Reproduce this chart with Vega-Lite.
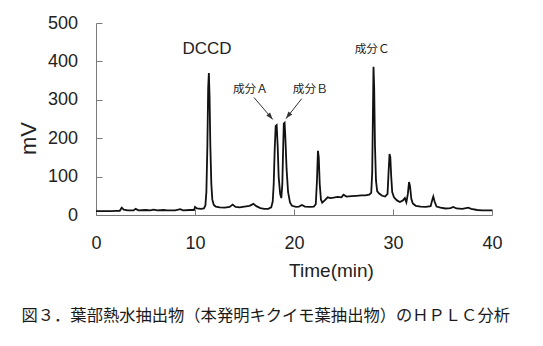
{
  "$schema": "https://vega.github.io/schema/vega-lite/v6.json",
  "autosize": "none",
  "width": 396,
  "height": 192,
  "padding": {"left": 96, "top": 23, "right": 51, "bottom": 131},
  "background": "white",
  "title": {
    "text": "図３．葉部熱水抽出物（本発明キクイモ葉抽出物）のＨＰＬＣ分析",
    "orient": "bottom",
    "anchor": "start",
    "frame": "group",
    "dx": -74.5,
    "offset": 28,
    "font": "Noto Sans CJK JP",
    "fontSize": 16.3,
    "fontWeight": "normal",
    "color": "#1a1a1a"
  },
  "config": {
    "view": {"stroke": null},
    "axis": {
      "grid": false,
      "domainColor": "#7a7a7a",
      "tickColor": "#7a7a7a",
      "domainWidth": 1,
      "tickWidth": 1,
      "tickSize": -6,
      "labelFont": "Liberation Sans",
      "labelFontSize": 18,
      "labelColor": "#222222",
      "titleFont": "Liberation Sans",
      "titleFontWeight": "normal",
      "titleColor": "#222222"
    }
  },
  "datasets": {
    "trace": [
      {"t": 0, "v": 10}, {"t": 0.5, "v": 10}, {"t": 1, "v": 10}, {"t": 1.5, "v": 10}, {"t": 2, "v": 10.5},
      {"t": 2.4, "v": 11}, {"t": 2.6, "v": 19}, {"t": 2.8, "v": 14}, {"t": 3.2, "v": 12}, {"t": 3.8, "v": 12},
      {"t": 4.0, "v": 16}, {"t": 4.3, "v": 12}, {"t": 5.0, "v": 13}, {"t": 5.5, "v": 12}, {"t": 5.8, "v": 14},
      {"t": 6.2, "v": 12}, {"t": 6.8, "v": 13}, {"t": 7.2, "v": 12}, {"t": 8.0, "v": 12}, {"t": 8.5, "v": 15},
      {"t": 8.8, "v": 12}, {"t": 9.5, "v": 13}, {"t": 9.9, "v": 13}, {"t": 10.0, "v": 21}, {"t": 10.2, "v": 17},
      {"t": 10.6, "v": 16}, {"t": 10.9, "v": 17}, {"t": 11.05, "v": 25}, {"t": 11.15, "v": 60}, {"t": 11.25, "v": 180},
      {"t": 11.33, "v": 330}, {"t": 11.4, "v": 370}, {"t": 11.47, "v": 310}, {"t": 11.55, "v": 180}, {"t": 11.65, "v": 80},
      {"t": 11.75, "v": 40}, {"t": 11.9, "v": 26}, {"t": 12.1, "v": 22}, {"t": 12.5, "v": 20}, {"t": 13.0, "v": 19},
      {"t": 13.5, "v": 21}, {"t": 13.8, "v": 27}, {"t": 14.1, "v": 21}, {"t": 14.5, "v": 20}, {"t": 15.0, "v": 22},
      {"t": 15.5, "v": 24}, {"t": 15.9, "v": 29}, {"t": 16.2, "v": 23}, {"t": 16.6, "v": 18}, {"t": 17.0, "v": 16},
      {"t": 17.4, "v": 16}, {"t": 17.7, "v": 20}, {"t": 17.85, "v": 35}, {"t": 17.95, "v": 80}, {"t": 18.05, "v": 170},
      {"t": 18.15, "v": 232}, {"t": 18.25, "v": 234}, {"t": 18.35, "v": 180}, {"t": 18.45, "v": 100}, {"t": 18.6, "v": 55},
      {"t": 18.72, "v": 44}, {"t": 18.82, "v": 80}, {"t": 18.9, "v": 170}, {"t": 18.97, "v": 238}, {"t": 19.05, "v": 240},
      {"t": 19.13, "v": 200}, {"t": 19.25, "v": 120}, {"t": 19.4, "v": 60}, {"t": 19.6, "v": 32}, {"t": 19.8, "v": 24},
      {"t": 20.2, "v": 21}, {"t": 20.5, "v": 22}, {"t": 20.8, "v": 26}, {"t": 21.1, "v": 22}, {"t": 21.6, "v": 21},
      {"t": 22.0, "v": 22}, {"t": 22.2, "v": 28}, {"t": 22.32, "v": 90}, {"t": 22.42, "v": 167}, {"t": 22.5, "v": 150},
      {"t": 22.6, "v": 80}, {"t": 22.72, "v": 40}, {"t": 22.85, "v": 32}, {"t": 23.1, "v": 38}, {"t": 23.4, "v": 46},
      {"t": 23.7, "v": 44}, {"t": 24.0, "v": 45}, {"t": 24.4, "v": 47}, {"t": 24.8, "v": 46}, {"t": 25.0, "v": 53},
      {"t": 25.3, "v": 48}, {"t": 25.8, "v": 49}, {"t": 26.3, "v": 50}, {"t": 26.8, "v": 51}, {"t": 27.2, "v": 51},
      {"t": 27.6, "v": 53}, {"t": 27.8, "v": 58}, {"t": 27.9, "v": 110}, {"t": 27.97, "v": 260}, {"t": 28.03, "v": 386},
      {"t": 28.1, "v": 330}, {"t": 28.18, "v": 180}, {"t": 28.28, "v": 90}, {"t": 28.4, "v": 62}, {"t": 28.6, "v": 56},
      {"t": 28.9, "v": 50}, {"t": 29.2, "v": 48}, {"t": 29.45, "v": 55}, {"t": 29.55, "v": 110}, {"t": 29.65, "v": 159},
      {"t": 29.73, "v": 150}, {"t": 29.82, "v": 100}, {"t": 29.92, "v": 60}, {"t": 30.1, "v": 46}, {"t": 30.4, "v": 38},
      {"t": 30.7, "v": 34}, {"t": 31.0, "v": 38}, {"t": 31.2, "v": 44}, {"t": 31.35, "v": 33}, {"t": 31.5, "v": 55},
      {"t": 31.62, "v": 86}, {"t": 31.72, "v": 75}, {"t": 31.85, "v": 42}, {"t": 32.0, "v": 30}, {"t": 32.3, "v": 24},
      {"t": 32.8, "v": 22}, {"t": 33.3, "v": 21}, {"t": 33.8, "v": 23}, {"t": 33.95, "v": 38}, {"t": 34.07, "v": 48},
      {"t": 34.2, "v": 35}, {"t": 34.4, "v": 22}, {"t": 34.8, "v": 19}, {"t": 35.3, "v": 17}, {"t": 35.8, "v": 18},
      {"t": 36.1, "v": 21}, {"t": 36.4, "v": 17}, {"t": 37.0, "v": 16}, {"t": 37.6, "v": 19}, {"t": 37.9, "v": 16},
      {"t": 38.5, "v": 13}, {"t": 39.0, "v": 12}, {"t": 39.5, "v": 12}, {"t": 40.0, "v": 12}
    ],
    "labels": [
      {"name": "DCCD", "t": 11.21, "v": 432, "kind": "latin"},
      {"name": "成分Ａ", "t": 15.6, "v": 328, "kind": "cjk"},
      {"name": "成分Ｂ", "t": 21.65, "v": 328, "kind": "cjk"},
      {"name": "成分Ｃ", "t": 27.9, "v": 433, "kind": "cjk"}
    ],
    "arrows": [
      {"name": "A", "t": 15.96, "v": 306, "t2": 17.85, "v2": 249},
      {"name": "B", "t": 20.78, "v": 303, "t2": 19.19, "v2": 251}
    ]
  },
  "encoding": {
    "x": {
      "field": "t", "type": "quantitative",
      "scale": {"domain": [0, 40], "nice": false, "zero": false},
      "axis": {
        "values": [0, 10, 20, 30, 40],
        "title": "Time(min)",
        "titleFontSize": 19,
        "titleAnchor": null,
        "titleAlign": "center",
        "titleBaseline": "top",
        "titleX": 235,
        "titleY": 46,
        "labelPadding": 25,
        "labelFlush": false
      }
    },
    "y": {
      "field": "v", "type": "quantitative",
      "scale": {"domain": [0, 500], "nice": false},
      "axis": {
        "values": [0, 100, 200, 300, 400, 500],
        "title": "mV",
        "titleFontSize": 22,
        "titleAngle": 270,
        "titleAlign": "center",
        "titleBaseline": "alphabetic",
        "titleX": -60.5,
        "titleY": 115,
        "labelPadding": 24.5,
        "labelFlush": false
      }
    }
  },
  "layer": [
    {
      "data": {"name": "trace"},
      "mark": {"type": "line", "color": "#111111", "strokeWidth": 1.8, "interpolate": "linear"}
    },
    {
      "data": {"name": "labels"},
      "transform": [{"filter": "datum.kind == 'latin'"}],
      "mark": {"type": "text", "font": "Liberation Sans", "fontSize": 17, "color": "#222222", "align": "center", "baseline": "middle"},
      "encoding": {"text": {"field": "name"}}
    },
    {
      "data": {"name": "labels"},
      "transform": [{"filter": "datum.kind == 'cjk'"}],
      "mark": {"type": "text", "font": "Noto Sans CJK JP", "fontSize": 11.7, "color": "#222222", "align": "center", "baseline": "middle"},
      "encoding": {"text": {"field": "name"}}
    },
    {
      "data": {"name": "arrows"},
      "mark": {"type": "rule", "color": "#333333", "strokeWidth": 1},
      "encoding": {
        "x2": {"field": "t2"},
        "y2": {"field": "v2"}
      }
    },
    {
      "data": {"name": "arrows"},
      "transform": [{"filter": "datum.name == 'A'"}],
      "mark": {"type": "point", "shape": "M0,0 L-0.35,-1 L0.35,-1 Z", "filled": true, "color": "#333333", "size": 200, "angle": -40, "opacity": 1},
      "encoding": {
        "x": {"field": "t2", "type": "quantitative"},
        "y": {"field": "v2", "type": "quantitative"}
      }
    },
    {
      "data": {"name": "arrows"},
      "transform": [{"filter": "datum.name == 'B'"}],
      "mark": {"type": "point", "shape": "M0,0 L-0.35,-1 L0.35,-1 Z", "filled": true, "color": "#333333", "size": 200, "angle": 38, "opacity": 1},
      "encoding": {
        "x": {"field": "t2", "type": "quantitative"},
        "y": {"field": "v2", "type": "quantitative"}
      }
    }
  ]
}
